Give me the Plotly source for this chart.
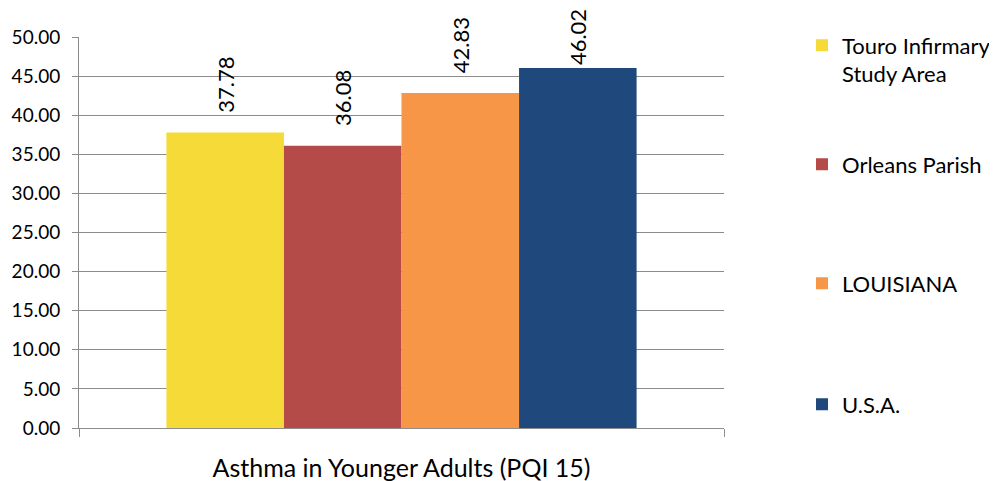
import plotly.graph_objects as go

categories = ["Asthma in Younger Adults (PQI 15)"]
series_names = ["Touro Infirmary<br>Study Area", "Orleans Parish", "LOUISIANA", "U.S.A."]
series_values = [37.78, 36.08, 42.83, 46.02]
series_colors = ["#F6DA37", "#B54B48", "#F79646", "#1F497D"]
label_pad = ["\u00a0\u00a0\u00a0", "\u00a0\u00a0\u00a0", "\u00a0\u00a0\u00a0", ""]
y_ticks = [0, 5, 10, 15, 20, 25, 30, 35, 40, 45, 50]

FONT = "Lato"
legend_names = ["legend", "legend2", "legend3", "legend4"]
legend_center_px = [46, 165, 284, 405]   # window pixel rows of first text line

OFF = 8  # page body margin
W, H = 997 - OFF, 481 - OFF
ml, mr, mt, mb = 79 - OFF, 273, 37 - OFF, 53
plot_h = H - mt - mb
plot_w = W - ml - mr

fig = go.Figure()
for name, val, col, lg, pad in zip(series_names, series_values, series_colors, legend_names, label_pad):
    fig.add_trace(go.Bar(
        x=categories, y=[val], name=name, marker_color=col, marker_line_width=0,
        text=[pad + f"{val:.2f}"], textposition="outside", textangle=-90,
        textfont=dict(family=FONT, size=22, color="#000000"),
        cliponaxis=False, constraintext="none", legend=lg,
    ))

layout_legends = {}
for lg, py in zip(legend_names, legend_center_px):
    top_fig = py - 21.5 - OFF
    layout_legends[lg] = dict(
        x=(802 - 79) / plot_w, xanchor="left",
        y=(H - mb - top_fig) / plot_h, yanchor="top",
        font=dict(family=FONT, size=22, color="#000000"),
        bgcolor="rgba(0,0,0,0)", valign="top", itemclick=False,
    )

fig.update_layout(
    width=W, height=H,
    margin=dict(l=ml, r=mr, t=mt, b=mb, autoexpand=False),
    paper_bgcolor="white", plot_bgcolor="white",
    barmode="group", bargap=0.271, bargroupgap=0,
    showlegend=True,
    font=dict(family=FONT, size=19, color="#000000"),
    xaxis=dict(
        showline=True, linecolor="#8c8c8c", linewidth=1,
        ticks="outside", tickson="boundaries", ticklen=8, tickcolor="#8c8c8c",
        showgrid=False, ticklabelstandoff=18,
        tickfont=dict(family=FONT, size=25, color="#000000"),
    ),
    yaxis=dict(
        range=[0, 50], tickvals=y_ticks, tickformat=".2f",
        showline=True, linecolor="#8c8c8c", linewidth=1,
        ticks="outside", ticklen=6, tickcolor="#8c8c8c",
        showgrid=True, gridcolor="#8c8c8c", gridwidth=1,
        zeroline=False, ticklabelstandoff=8,
        tickfont=dict(family=FONT, size=19, color="#000000"),
    ),
    **layout_legends,
)

fig.write_html("out.html")
